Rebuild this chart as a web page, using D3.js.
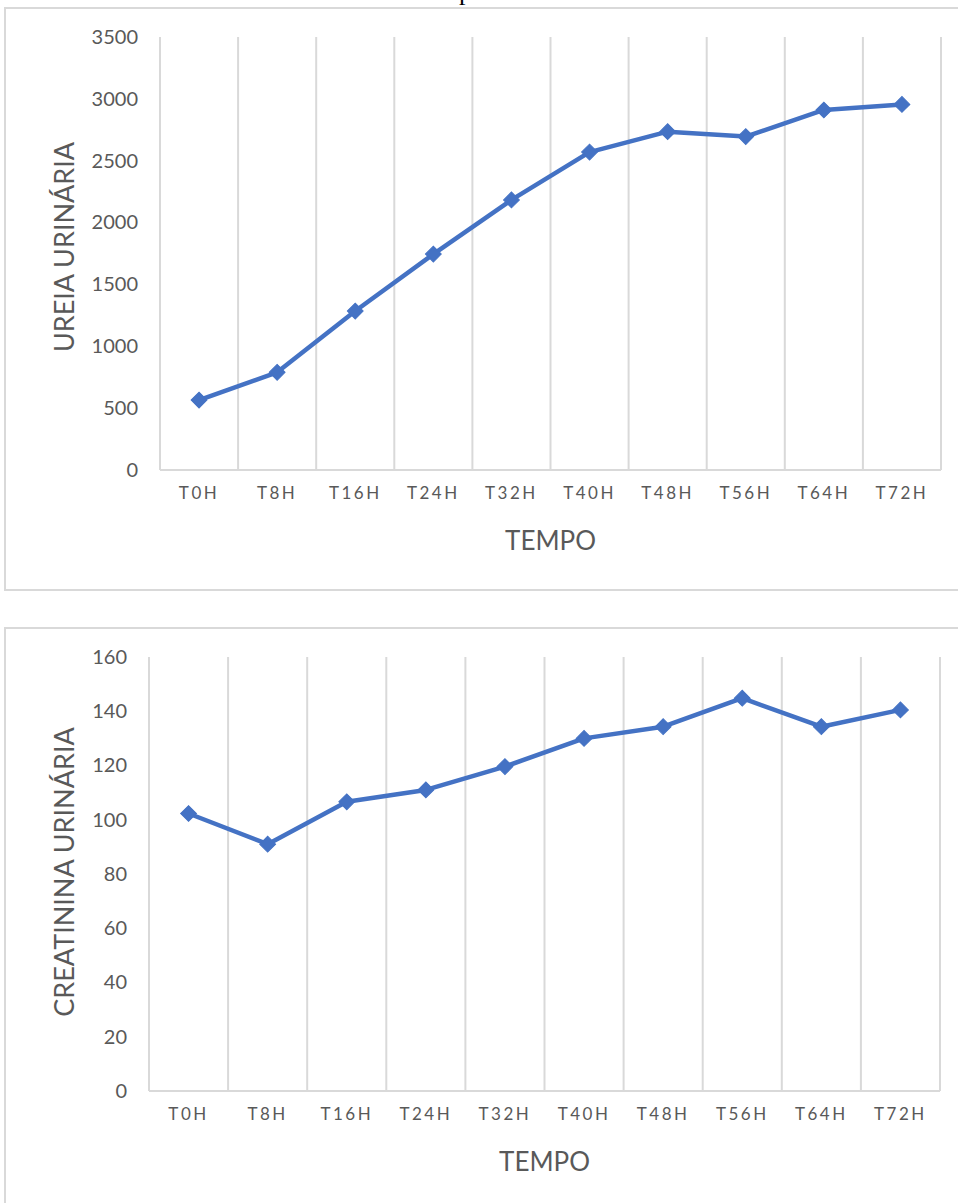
<!DOCTYPE html>
<html>
<head>
<meta charset="utf-8">
<script src="https://cdn.jsdelivr.net/npm/d3@7"></script>
<style>
  html, body { margin: 0; padding: 0; background: #fff; }
  svg { display: block; }
</style>
</head>
<body>
<div id="chart"></div>
<script>
// ---- data ----
const categories = ["T0H", "T8H", "T16H", "T24H", "T32H", "T40H", "T48H", "T56H", "T64H", "T72H"];
const ureiaValues = [565, 790, 1285, 1745, 2183, 2570, 2735, 2695, 2910, 2955];
const creatininaValues = [102.3, 91, 106.6, 111, 119.6, 130, 134.3, 144.8, 134.3, 140.5];
const ureiaTicks = [0, 500, 1000, 1500, 2000, 2500, 3000, 3500];
const creatininaTicks = [0, 20, 40, 60, 80, 100, 120, 140, 160];
const xTitle = "TEMPO";
const ureiaTitle = "UREIA URINÁRIA";
const creatininaTitle = "CREATININA URINÁRIA";

const W = 958, H = 1203;
const svg = d3.select("#chart").append("svg").attr("width", W).attr("height", H);
svg.append("rect").attr("width", W).attr("height", H).attr("fill", "#fff");

// fragment of text from the page above (only its descender shows at the top edge)
svg.append("text").attr("x", 459).attr("y", 0)
  .attr("font-family", "Liberation Serif").attr("font-size", 26).attr("fill", "#000").text("p");

const FONT = "Lato, 'Open Sans', sans-serif";
const GREY = "#595959";
const GRID = "#d9d9d9";
const BLUE = "#4472C4";

function drawChart(opt) {
  const g = svg.append("g");
  // chart box
  g.append("rect").attr("x", opt.box[0]).attr("y", opt.box[1])
    .attr("width", opt.box[2]).attr("height", opt.box[3])
    .attr("fill", "none").attr("stroke", GRID).attr("stroke-width", 2);

  const x = d3.scaleBand().domain(categories).range([opt.left, opt.right]).padding(0);
  const y = d3.scaleLinear().domain([0, opt.max]).range([opt.bottom, opt.top]);

  // vertical gridlines at category boundaries
  const bounds = categories.map(c => x(c)).concat([opt.right]);
  g.selectAll("line.vg").data(bounds).enter().append("line")
    .attr("x1", d => d).attr("x2", d => d)
    .attr("y1", opt.top).attr("y2", opt.bottom)
    .attr("stroke", GRID).attr("stroke-width", 2);
  // bottom axis line
  g.append("line").attr("x1", opt.left).attr("x2", opt.right)
    .attr("y1", opt.bottom).attr("y2", opt.bottom)
    .attr("stroke", GRID).attr("stroke-width", 2);

  // y axis labels
  const ya = g.append("g").attr("transform", `translate(${opt.left - 14},0)`)
    .call(d3.axisLeft(y).tickValues(opt.ticks).tickSize(0).tickPadding(8).tickFormat(d3.format("d")));
  ya.select(".domain").remove();
  ya.selectAll("text").attr("font-family", FONT).attr("font-size", 20).attr("fill", GREY);

  // x axis labels
  const xa = g.append("g").attr("transform", `translate(0,${opt.bottom + 17})`)
    .call(d3.axisBottom(x).tickSize(0).tickPadding(0));
  xa.select(".domain").remove();
  xa.selectAll("text").attr("font-family", FONT).attr("font-size", 17)
    .attr("letter-spacing", "2.5px").attr("fill", GREY).attr("dy", "0.71em");

  // axis titles
  g.append("text").attr("x", (opt.left + opt.right) / 2).attr("y", opt.bottom + 70)
    .attr("text-anchor", "middle").attr("dominant-baseline", "central")
    .attr("font-family", FONT).attr("font-size", 26).attr("fill", GREY).text(xTitle);
  g.append("text").attr("transform", `translate(63,${opt.titleY}) rotate(-90)`)
    .attr("text-anchor", "middle").attr("dominant-baseline", "central")
    .attr("font-family", FONT).attr("font-size", 27).attr("fill", GREY).text(opt.title);

  // line
  const data = categories.map((c, i) => ({ c, v: opt.values[i] }));
  const line = d3.line().x(d => x(d.c) + x.bandwidth() / 2).y(d => y(d.v));
  g.append("path").datum(data).attr("d", line)
    .attr("fill", "none").attr("stroke", BLUE).attr("stroke-width", 4.5)
    .attr("stroke-linejoin", "round");
  const sym = d3.symbol().type(d3.symbolSquare).size(125);
  g.selectAll("path.mk").data(data).enter().append("path")
    .attr("d", sym)
    .attr("transform", d => `translate(${x(d.c) + x.bandwidth() / 2},${y(d.v)}) rotate(45)`)
    .attr("fill", BLUE).attr("stroke", BLUE).attr("stroke-width", 1);
}

drawChart({
  box: [5, 8, 1000, 582],
  left: 160, right: 941, top: 37, bottom: 470,
  max: 3500, ticks: ureiaTicks, values: ureiaValues,
  title: ureiaTitle, titleY: 247
});
drawChart({
  box: [5, 628, 1000, 620],
  left: 149, right: 940, top: 657, bottom: 1091,
  max: 160, ticks: creatininaTicks, values: creatininaValues,
  title: creatininaTitle, titleY: 872
});
</script>
</body>
</html>
